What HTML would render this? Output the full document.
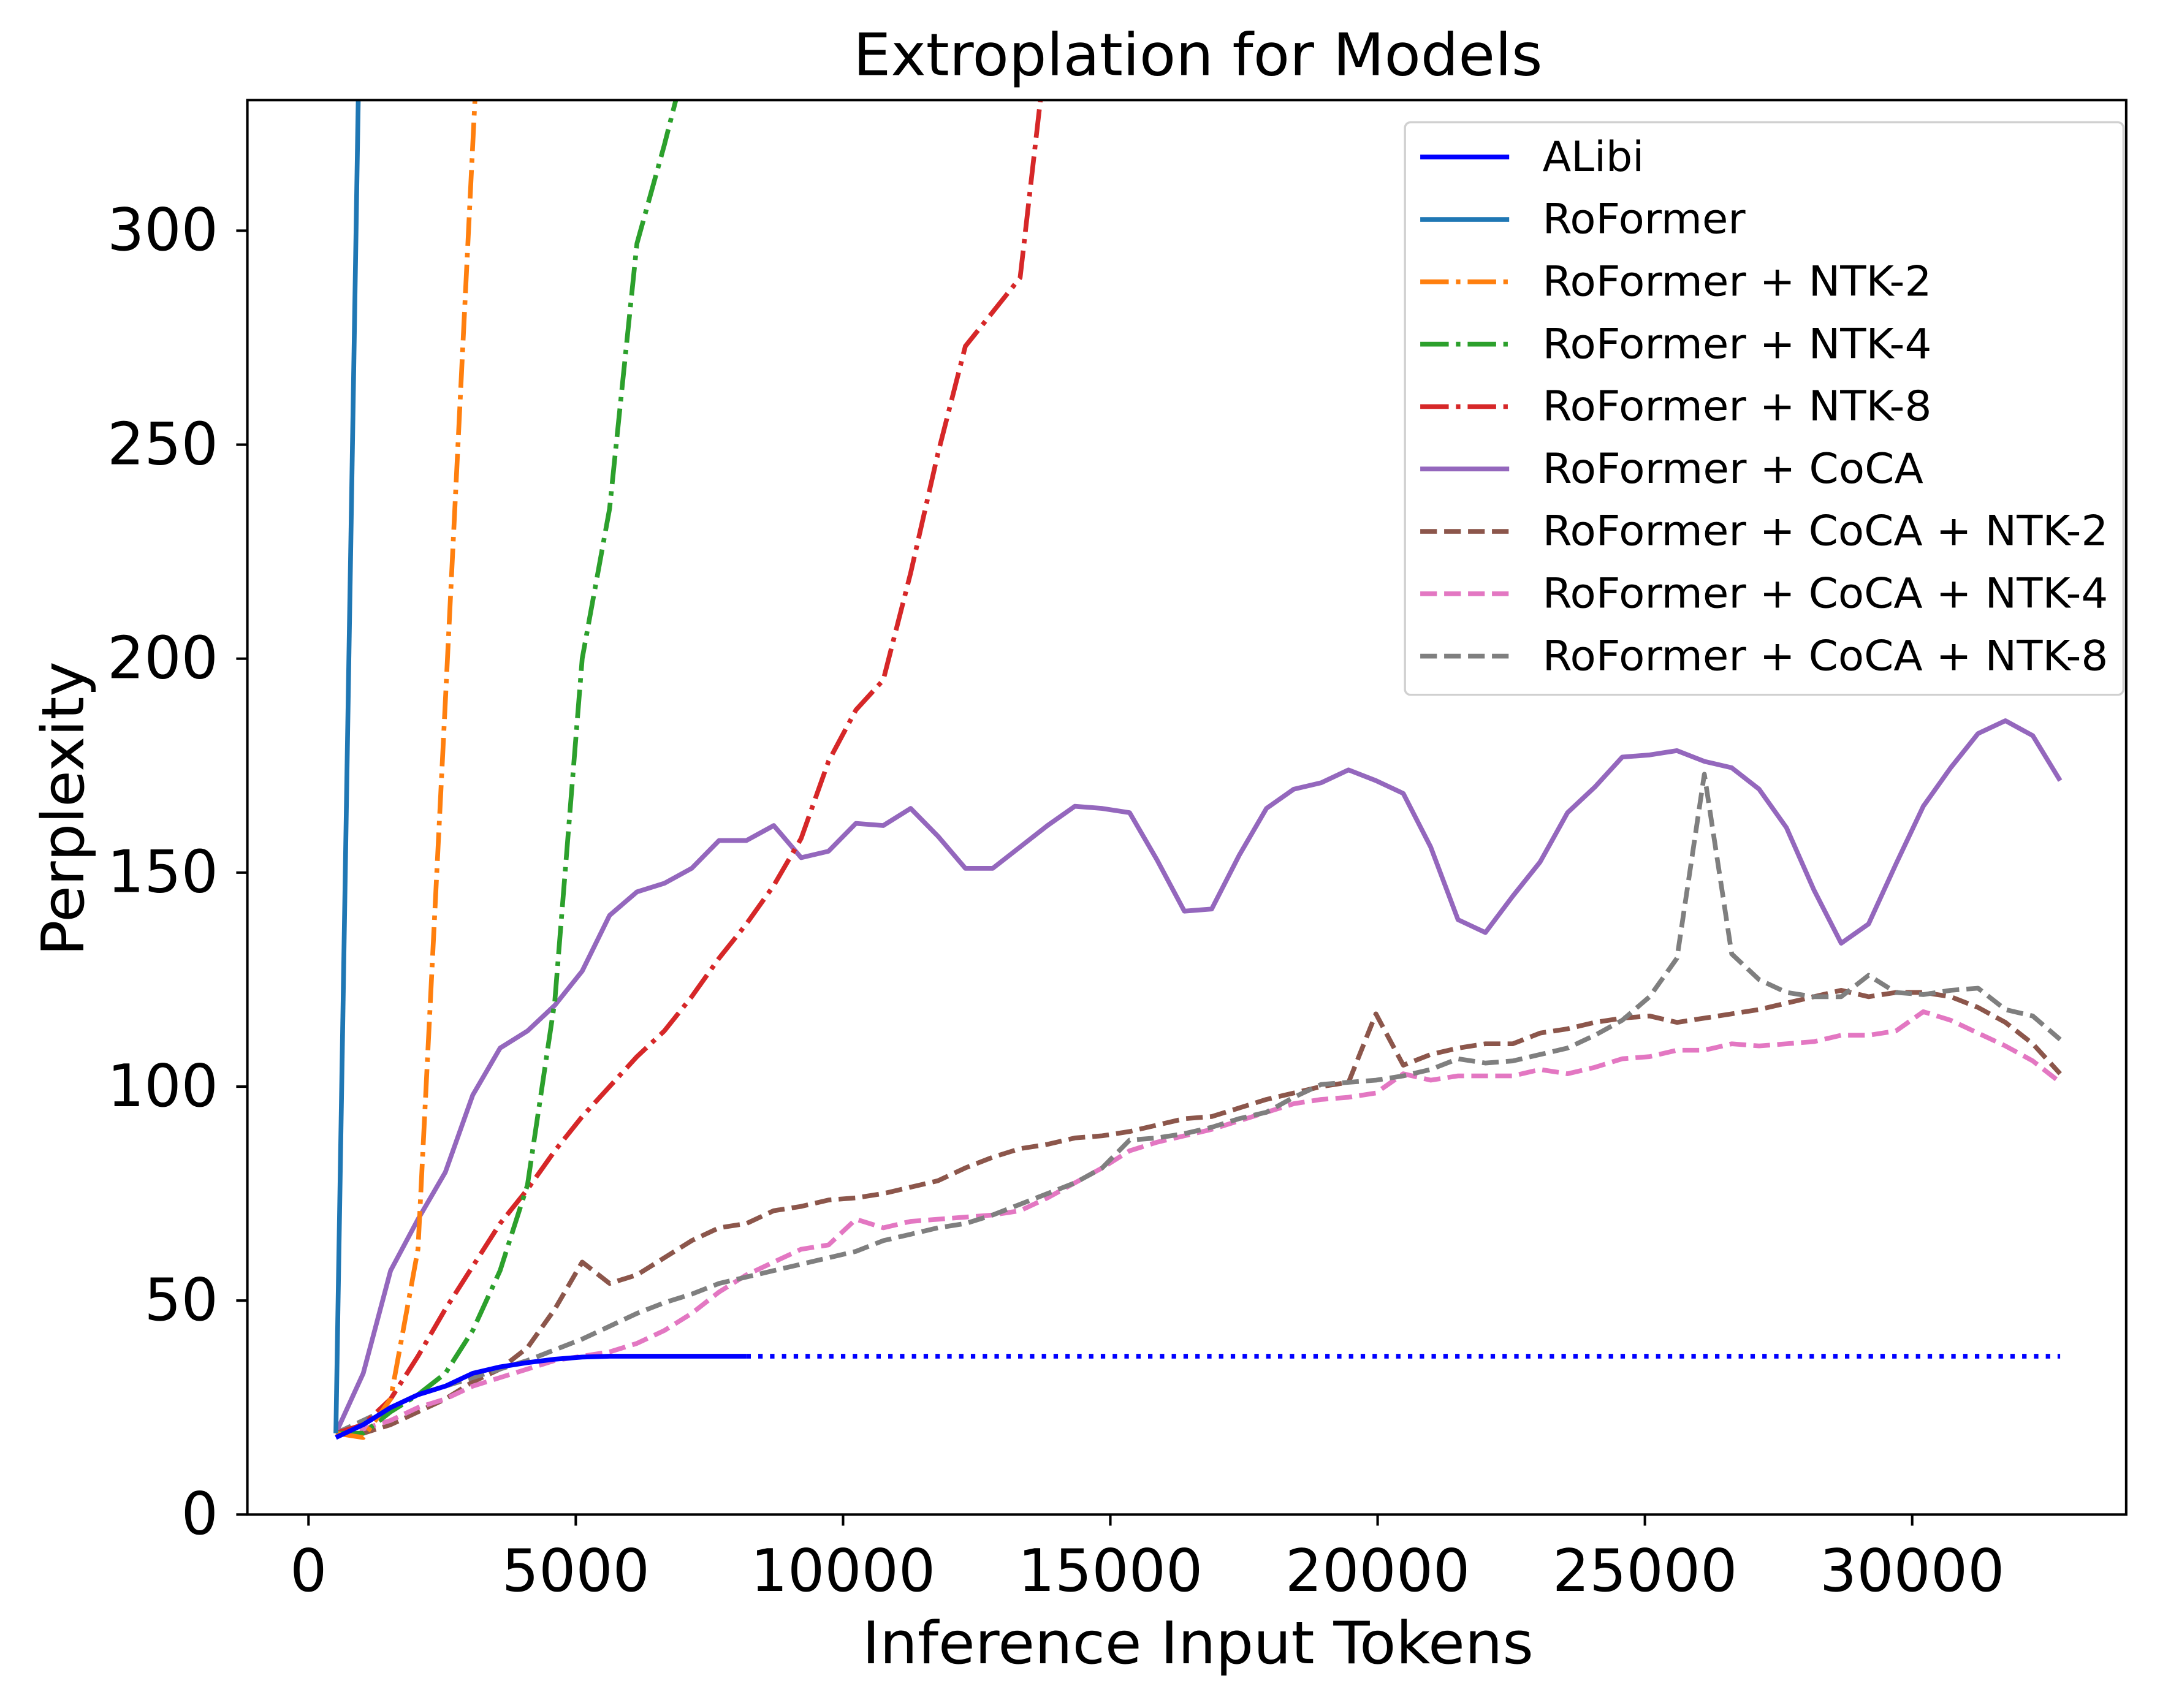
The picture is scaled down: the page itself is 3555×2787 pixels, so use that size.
<!DOCTYPE html>
<html><head><meta charset="utf-8"><style>
html,body{margin:0;padding:0;background:#fff}
svg{display:block}
text{font-family:"DejaVu Sans","Liberation Sans",sans-serif;fill:#000}
</style></head><body>
<svg id="chart" width="3555" height="2787" viewBox="0 0 1568 1229.2" xmlns="http://www.w3.org/2000/svg">
<rect width="1568" height="1229.2" fill="#fff"/>
<defs><clipPath id="plotclip"><rect x="178" y="72" width="1352" height="1018"/></clipPath></defs>
<text x="862" y="54" font-size="42" text-anchor="middle" textLength="496" lengthAdjust="spacingAndGlyphs">Extroplation for Models</text>
<g id="xticks"></g>
<g id="yticks"></g>
<text x="862" y="1197" font-size="42" text-anchor="middle" textLength="483" lengthAdjust="spacingAndGlyphs">Inference Input Tokens</text>
<text x="60" y="582" font-size="42" text-anchor="middle" transform="rotate(-90 60 582)" textLength="212" lengthAdjust="spacingAndGlyphs">Perplexity</text>
<g id="series" clip-path="url(#plotclip)"></g>
<rect x="178" y="72" width="1352" height="1018" fill="none" stroke="#000" stroke-width="1.8"/>
<g id="legend"></g>
</svg>
<script>
const xTicks=[0,5000,10000,15000,20000,25000,30000];
const yTicks=[0,50,100,150,200,250,300];
const alibi=[18,21,25,28,30,33,34.5,35.5,36.3,36.8,37,37,37,37,37,37];
const alibiExt=[37,37];
const roformer=[19,400];
const ntk2=[19,18,27,62,190,320,450];
const ntk4=[19,19,24,28,33,43,57,77,120,200,235,297,320,345];
const ntk8=[19,21,27,37,48,58,68,76,85,93,100,107,113,121,130,138,147,158,176,188,195,220,248,273,281,289,345];
const coca=[19,33,57,69,80,98,109,113,119,127,140,145.5,147.5,151,157.5,157.5,161,153.5,155,161.5,161,165,158.5,151,151,156,161,165.5,165,164,153,141,141.5,154,165,169.5,171,174,171.5,168.5,156,139,136,144.5,152.5,164,170,177,177.5,178.5,176,174.5,169.5,160.5,146,133.5,138,152,165.5,174.5,182.5,185.5,182,171.5];
const cocaNtk2=[19,19,21,24,27,31,34,39,48,59,54,56,60,64,67,68,71,72,73.5,74,75,76.5,78,81,83.5,85.5,86.5,88,88.5,89.5,91,92.5,93,95,97,98.5,100,101,117,105,107.5,109,110,110,112.5,113.5,115,116,116.5,115,116,117,118,119.5,121,122.5,121,122,122,121,118.5,115,110,103];
const cocaNtk4=[19,20,22,25,27,30,32,34,36,37,38,40,43,47,52,56,59,62,63,69,67,68.5,69,69.5,70,71,74,77.5,81,85,87,88.5,90,92,94,96,97,97.5,98.5,103,101.5,102.5,102.5,102.5,104,103,104.5,106.5,107,108.5,108.5,110,109.5,110,110.5,112,112,113,117.5,115.5,112.5,109.5,106,101];
const cocaNtk8=[19,22,25,28,30,32,34,36,38.5,41,44,47,49.5,51.5,54,55.5,57,58.5,60,61.5,64,65.5,67,68,70,72.5,75,77.5,81,87.5,88,89,90.5,92.5,94,97.5,100.5,101,101.5,102.5,104,106.5,105.5,106,107.5,109,112,115.5,121,130,173,131,125,122,121,121,126,122,121.5,122.5,123,118,116.5,111];

const NS='http://www.w3.org/2000/svg';
const X=t=>222+t*1154/30000;
const Y=v=>1090-v*3.08;
function mk(tag,attrs,parent){const e=document.createElementNS(NS,tag);for(const k in attrs)e.setAttribute(k,attrs[k]);parent.appendChild(e);return e;}
const xg=document.getElementById('xticks'), yg=document.getElementById('yticks');
xTicks.forEach(t=>{
  const l=mk('line',{x1:X(t),x2:X(t),y1:1090,y2:1098,stroke:'#000','stroke-width':1.8},xg);
  
  
  const tx=mk('text',{x:X(t),y:1145,'font-size':42,'text-anchor':'middle'},xg);
  tx.textContent=t;
  tx.setAttribute('textLength',String(t).length*26.6);
  tx.setAttribute('lengthAdjust','spacingAndGlyphs');
  
  
});
yTicks.forEach(v=>{
  const l=mk('line',{x1:170,x2:178,y1:Y(v),y2:Y(v),stroke:'#000','stroke-width':1.8},yg);
  
  
  const tx=mk('text',{x:157,y:Y(v)+14,'font-size':42,'text-anchor':'end'},yg);
  tx.textContent=v;
  tx.setAttribute('textLength',String(v).length*26.6);
  tx.setAttribute('lengthAdjust','spacingAndGlyphs');
  
  
});
const DASH='12,5.2', DASHDOT='20.5,5.2,3.2,5.2', DOT='3.2,5.3';
const sg=document.getElementById('series');
function draw(arr,start,color,dash,name){
  const pts=arr.map((v,i)=>X(start+512*i).toFixed(2)+','+Y(v).toFixed(2)).join(' ');
  const p=mk('polyline',{points:pts,fill:'none',stroke:color,'stroke-width':3.4,'stroke-linejoin':'round'},sg);
  if(dash)p.setAttribute('stroke-dasharray',dash);
  
  
}
draw(cocaNtk2,512,'#8c564b',DASH,'line-coca-ntk2');
draw(cocaNtk4,512,'#e377c2',DASH,'line-coca-ntk4');
draw(cocaNtk8,512,'#7f7f7f',DASH,'line-coca-ntk8');
draw(coca,512,'#9467bd',null,'line-coca');
draw(ntk8,512,'#d62728',DASHDOT,'line-ntk8');
draw(ntk4,512,'#2ca02c',DASHDOT,'line-ntk4');
draw(ntk2,512,'#ff7f0e',DASHDOT,'line-ntk2');
draw(roformer,512,'#1f77b4',null,'line-roformer');
draw(alibi,512,'#0000ff',null,'line-alibi');
(function(){const p=mk('polyline',{points:X(8192)+','+Y(alibiExt[0])+' '+X(32768)+','+Y(alibiExt[1]),fill:'none',stroke:'#0000ff','stroke-width':3.4,'stroke-dasharray':DOT},sg);

})();
const lg=document.getElementById('legend');
const box=mk('rect',{x:1011,y:88,width:517,height:412,rx:4,fill:'#fff','fill-opacity':0.8,stroke:'#d0d0d0','stroke-width':1.5},lg);


const entries=[['ALibi','#0000ff',null,73],['RoFormer','#1f77b4',null,146],['RoFormer + NTK-2','#ff7f0e',DASHDOT,280],['RoFormer + NTK-4','#2ca02c',DASHDOT,280],['RoFormer + NTK-8','#d62728',DASHDOT,280],['RoFormer + CoCA','#9467bd',null,274],['RoFormer + CoCA + NTK-2','#8c564b',DASH,407],['RoFormer + CoCA + NTK-4','#e377c2',DASH,407],['RoFormer + CoCA + NTK-8','#7f7f7f',DASH,407]];
entries.forEach((e,i)=>{
  const y=113+i*44.9;
  const g=mk('g',{},lg);
  
  
  const l=mk('line',{x1:1022,x2:1086,y1:y,y2:y,stroke:e[1],'stroke-width':3.4},g);
  if(e[2])l.setAttribute('stroke-dasharray',e[2]);
  const t=mk('text',{x:1110,y:y+10,'font-size':30,textLength:e[3],lengthAdjust:'spacingAndGlyphs'},g);
  t.textContent=e[0];
});
</script>
</body></html>
